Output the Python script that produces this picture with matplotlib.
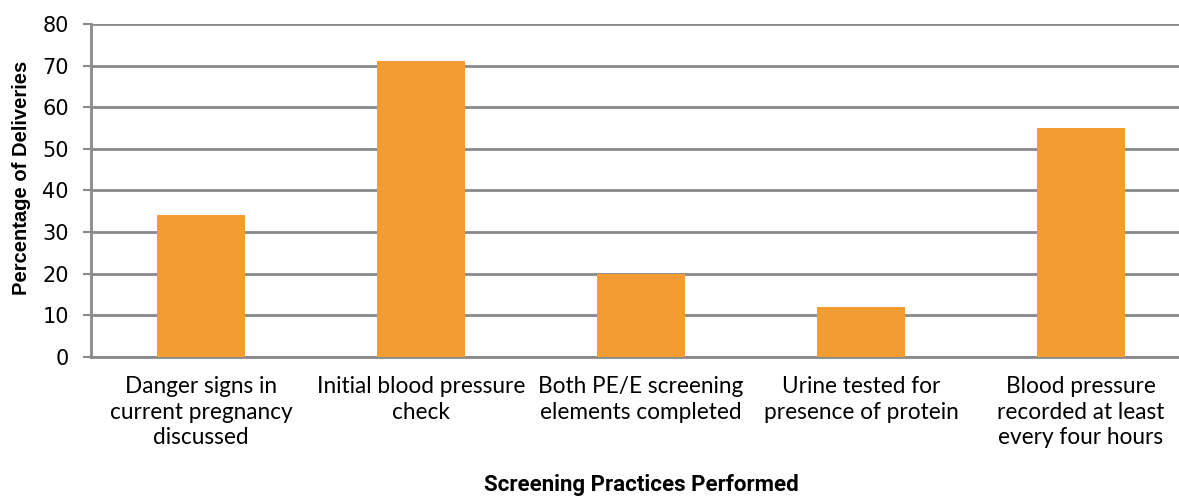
import matplotlib
matplotlib.use('Agg')
import matplotlib.pyplot as plt
from matplotlib import font_manager

categories = [
    'Danger signs in\ncurrent pregnancy\ndiscussed',
    'Initial blood pressure\ncheck',
    'Both PE/E screening\nelements completed',
    'Urine tested for\npresence of protein',
    'Blood pressure\nrecorded at least\nevery four hours',
]
values = [34, 71, 20, 12, 55]
yticks = [0, 10, 20, 30, 40, 50, 60, 70, 80]

names = {f.name for f in font_manager.fontManager.ttflist}
narrow = 'Liberation Sans Narrow' if 'Liberation Sans Narrow' in names else 'Roboto'

GRID = '#8a8a8a'
BAR = '#f39c34'

fig = plt.figure(figsize=(11.79, 4.97), dpi=100)
ax = fig.add_axes([91 / 1179, 1 - 357 / 497, 1100 / 1179, 333 / 497])

x = list(range(len(categories)))
ax.bar(x, values, width=0.4, color=BAR, zorder=3)
ax.set_xlim(-0.5, len(categories) - 0.5)
ax.set_ylim(0, 80)
ax.set_yticks(yticks)
ax.set_yticklabels([str(t) for t in yticks], family='DejaVu Sans', fontsize=15)
ax.set_xticks(x)
ax.set_xticklabels(categories, family='Lato', fontsize=16.3, linespacing=1.25)
ax.tick_params(axis='x', length=0, pad=14)
ax.tick_params(axis='y', length=6, width=1.5, color=GRID, pad=10)

ax.grid(axis='y', color=GRID, linewidth=2, zorder=0)
for s in ['top', 'right']:
    ax.spines[s].set_visible(False)
ax.spines['left'].set_color(GRID)
ax.spines['left'].set_linewidth(2)
ax.spines['bottom'].set_color(GRID)
ax.spines['bottom'].set_linewidth(2)

# axis titles
fig.text(22 / 1179, 1 - 178 / 497, 'Percentage of Deliveries', family='Liberation Sans',
         fontweight='bold', fontsize=14.5, rotation=90, ha='center', va='center')
fig.text(641 / 1179, 1 - 485 / 497, 'Screening Practices Performed', family=narrow,
         fontweight='bold', fontsize=16, ha='center', va='center')

fig.savefig('out.png', dpi=100)
